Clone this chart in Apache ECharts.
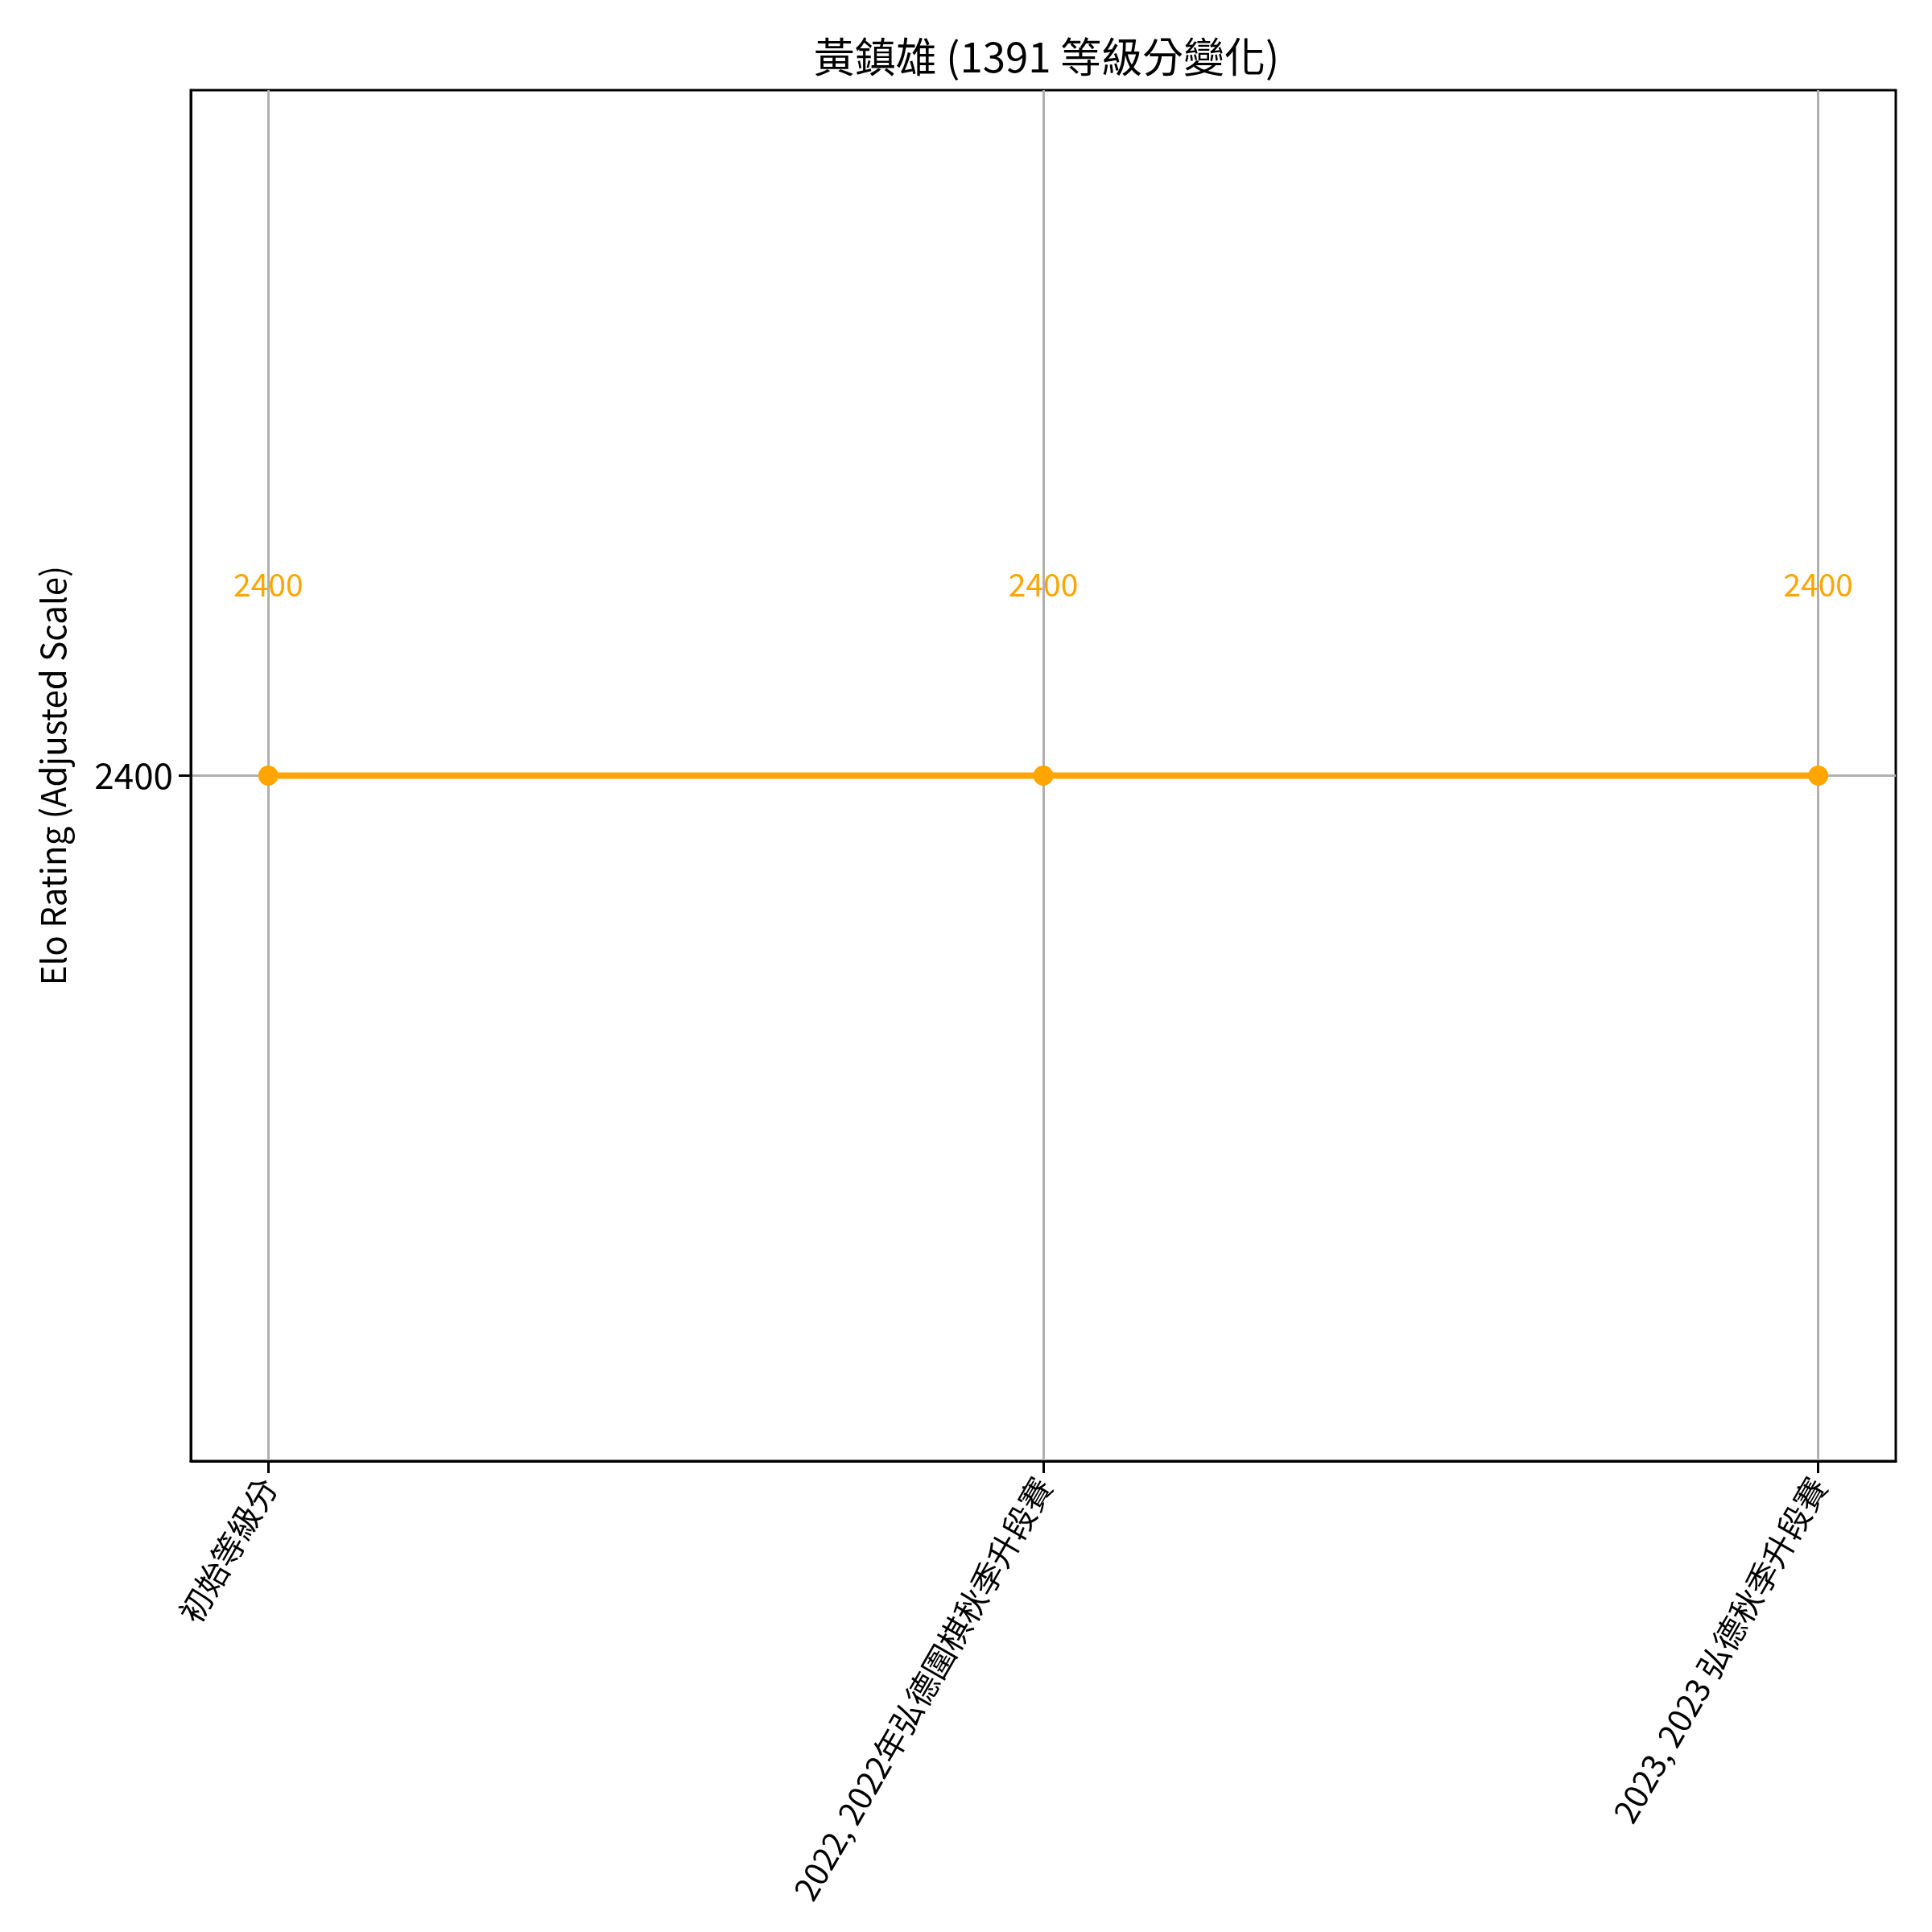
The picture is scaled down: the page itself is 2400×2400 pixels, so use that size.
<!DOCTYPE html>
<html>
<head>
<meta charset="utf-8">
<script src="https://cdn.jsdelivr.net/npm/echarts@6/dist/echarts.min.js"></script>
<style>
html,body{margin:0;padding:0;background:#fff;}
#chart{width:2400px;height:2400px;}
</style>
</head>
<body>
<div id="chart"></div>
<script>
const titleText = '黃鎮雄 (1391 等級分變化)';
const categories = ['初始等級分', '2022, 2022年弘德圍棋秋季升段賽', '2023, 2023 弘德秋季升段賽'];
const ratings = [2400, 2400, 2400];
const yTicks = [2400];
const yAxisName = 'Elo Rating (Adjusted Scale)';

const FONT = '"Noto Sans CJK TC", "Noto Sans", sans-serif';
const chart = echarts.init(document.getElementById('chart'), null, {renderer: 'canvas'});
const idx = categories.map((c, i) => i);

const option = {
  backgroundColor: '#ffffff',
  animation: false,
  title: {
    text: titleText,
    left: 1295,
    textAlign: 'center',
    top: 40,
    textStyle: {fontFamily: FONT, fontSize: 51, fontWeight: 'normal', color: '#000'}
  },
  grid: {left: 237, right: 45, top: 112, bottom: 585, containLabel: false, show: true, borderColor: '#000', borderWidth: 3},
  xAxis: {
    type: 'value',
    min: -0.1,
    max: categories.length - 1 + 0.1,
    axisLine: {show: true, onZero: false, lineStyle: {color: '#000', width: 3}},
    axisTick: {show: true, length: 15, lineStyle: {color: '#000', width: 3}, customValues: idx},
    axisLabel: {
      customValues: idx,
      rotate: 60,
      margin: 24,
      fontFamily: FONT,
      fontSize: 40,
      color: '#000',
      formatter: v => categories[Math.round(v)] || ''
    },
    splitLine: {show: true, lineStyle: {color: '#b0b0b0', width: 3}}
  },
  yAxis: {
    type: 'value',
    min: 2300,
    max: 2500,
    name: yAxisName,
    nameLocation: 'middle',
    nameGap: 150,
    nameTextStyle: {fontFamily: FONT, fontSize: 42, color: '#000'},
    axisLine: {show: true, onZero: false, lineStyle: {color: '#000', width: 3}},
    axisTick: {show: true, length: 15, lineStyle: {color: '#000', width: 3}, customValues: yTicks},
    axisLabel: {customValues: yTicks, margin: 22, fontFamily: FONT, fontSize: 44, color: '#000', formatter: v => String(v)},
    splitLine: {show: true, lineStyle: {color: '#b0b0b0', width: 3}}
  },
  series: [{
    type: 'line',
    data: ratings.map((v, i) => [i, v]),
    symbol: 'circle',
    symbolSize: 25,
    lineStyle: {color: '#ffa500', width: 8},
    itemStyle: {color: '#ffa500'},
    label: {
      show: true,
      position: 'top',
      distance: 205,
      fontFamily: FONT,
      fontSize: 39,
      color: '#ffa500',
      formatter: p => String(p.value[1])
    },
    z: 5
  }]
};
chart.setOption(option);
</script>
</body>
</html>
